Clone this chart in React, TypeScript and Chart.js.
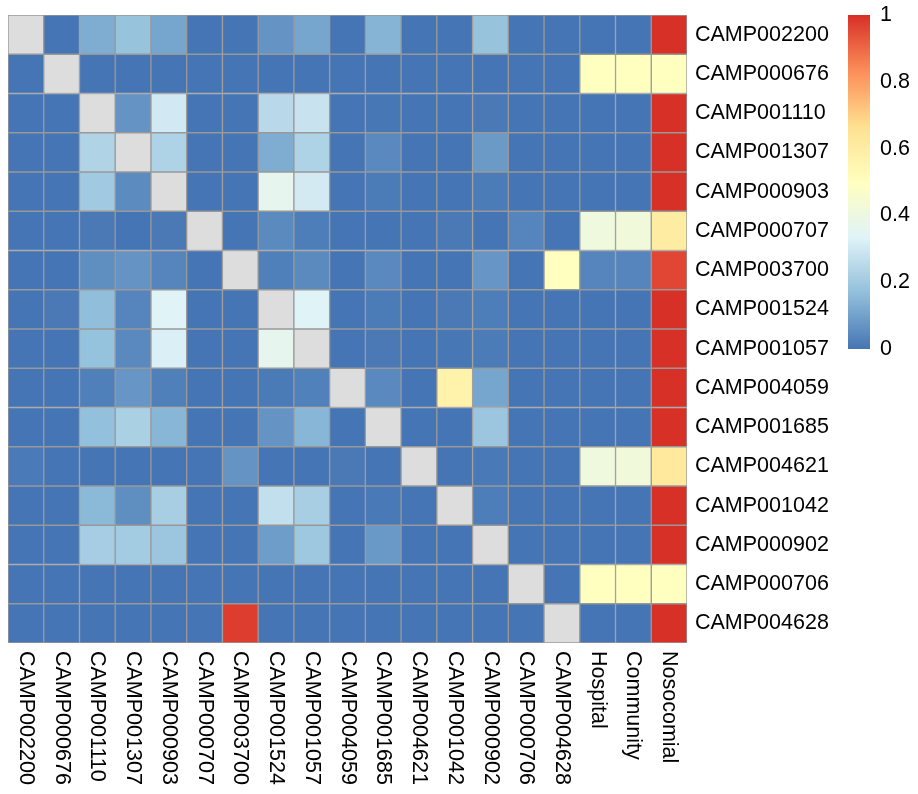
import React, { useEffect, useRef } from "react";
import { Chart, registerables } from "chart.js";

Chart.register(...registerables);

const rowLabels = [
  "CAMP002200", "CAMP000676", "CAMP001110", "CAMP001307", "CAMP000903", "CAMP000707",
  "CAMP003700", "CAMP001524", "CAMP001057", "CAMP004059", "CAMP001685", "CAMP004621",
  "CAMP001042", "CAMP000902", "CAMP000706", "CAMP004628",
];

const colLabels = [
  "CAMP002200", "CAMP000676", "CAMP001110", "CAMP001307", "CAMP000903", "CAMP000707",
  "CAMP003700", "CAMP001524", "CAMP001057", "CAMP004059", "CAMP001685", "CAMP004621",
  "CAMP001042", "CAMP000902", "CAMP000706", "CAMP004628", "Hospital", "Community", "Nosocomial",
];

// null = NA (diagonal)
const r00 = [null, 0, 0.127, 0.18, 0.107, 0, 0, 0.068, 0.107, 0, 0.143, 0, 0, 0.18, 0, 0, 0, 0, 1];
const r01 = [0, null, 0, 0, 0, 0, 0, 0, 0, 0, 0, 0, 0, 0, 0, 0, 0.5, 0.5, 0.5];
const r02 = [0, 0, null, 0.068, 0.3, 0, 0, 0.25, 0.283, 0, 0.005, 0, 0, 0.01, 0, 0, 0, 0, 1];
const r03 = [0, 0, 0.232, null, 0.23, 0, 0, 0.125, 0.23, 0, 0.044, 0, 0, 0.083, 0, 0, 0, 0, 1];
const r04 = [0, 0, 0.2, 0.05, null, 0, 0, 0.365, 0.306, 0, 0.015, 0, 0, 0.015, 0, 0, 0, 0, 1];
const r05 = [0, 0, 0.01, 0, 0.01, null, 0, 0.048, 0.02, 0, 0, 0, 0.01, 0, 0.035, 0, 0.41, 0.42, 0.6];
const r06 = [0, 0, 0.057, 0.07, 0.037, 0, null, 0.024, 0.048, 0, 0.046, 0, 0, 0.075, 0, 0.5, 0.037, 0.035, 0.96];
const r07 = [0, 0.01, 0.167, 0.035, 0.335, 0, 0, null, 0.335, 0, 0.015, 0, 0.01, 0.02, 0, 0, 0, 0, 1];
const r08 = [0, 0, 0.175, 0.046, 0.32, 0, 0, 0.365, null, 0, 0.01, 0, 0.005, 0.015, 0, 0, 0, 0, 1];
const r09 = [0, 0, 0.024, 0.075, 0.024, 0, 0, 0.013, 0.026, null, 0.046, 0, 0.57, 0.107, 0, 0, 0, 0, 1];
const r10 = [0, 0, 0.17, 0.22, 0.147, 0, 0, 0.07, 0.147, 0, null, 0, 0, 0.19, 0, 0, 0, 0, 1];
const r11 = [0.012, 0, 0, 0, 0, 0, 0.068, 0, 0, 0.01, 0, null, 0, 0.008, 0, 0, 0.41, 0.42, 0.62];
const r12 = [0, 0, 0.154, 0.057, 0.215, 0, 0, 0.27, 0.216, 0, 0.008, 0, null, 0.02, 0, 0, 0, 0, 1];
const r13 = [0, 0, 0.21, 0.205, 0.19, 0, 0, 0.09, 0.195, 0, 0.08, 0, 0, null, 0, 0, 0, 0, 1];
const r14 = [0, 0, 0, 0, 0, 0, 0, 0, 0, 0, 0, 0, 0, 0, null, 0, 0.5, 0.5, 0.5];
const r15 = [0, 0, 0, 0, 0, 0, 0.977, 0, 0, 0, 0, 0, 0, 0, 0, null, 0, 0, 1];

const matrix = [r00, r01, r02, r03, r04, r05, r06, r07, r08, r09, r10, r11, r12, r13, r14, r15];

const colorbarTicks = [0, 0.2, 0.4, 0.6, 0.8, 1];

// reversed RdYlBu (7 classes)
const paletteStops = ["#4575B4", "#91BFDB", "#E0F3F8", "#FFFFBF", "#FEE090", "#FC8D59", "#D73027"];
const naColor = "#DDDDDD";

function hexToRgb(h: string) {
  return [parseInt(h.slice(1, 3), 16), parseInt(h.slice(3, 5), 16), parseInt(h.slice(5, 7), 16)];
}

function colorFor(v: number | null) {
  if (v === null || v === undefined) return naColor;
  const t = Math.max(0, Math.min(1, v)) * (paletteStops.length - 1);
  const i = Math.min(Math.floor(t), paletteStops.length - 2);
  const f = t - i;
  const a = hexToRgb(paletteStops[i]);
  const b = hexToRgb(paletteStops[i + 1]);
  const c = a.map((x, k) => Math.round(x + (b[k] - x) * f));
  return `rgb(${c[0]},${c[1]},${c[2]})`;
}

const W = 918;
const H = 794;
const FONT = "'Liberation Sans', Arial, sans-serif";
const FS = 21.5;

export default function App() {
  const ref = useRef<HTMLCanvasElement | null>(null);

  useEffect(() => {
    if (!ref.current) return;

    const extras = {
      id: "extras",
      afterDraw(chart: any) {
        const ctx = chart.ctx;
        const xs = chart.scales.x;
        const area = chart.chartArea;
        ctx.save();
        ctx.fillStyle = "#000";
        ctx.font = `${FS}px ${FONT}`;
        // rotated column labels (clockwise)
        colLabels.forEach((lab, i) => {
          const x = xs.getPixelForValue(i);
          ctx.save();
          ctx.translate(x, area.bottom + 8);
          ctx.rotate(Math.PI / 2);
          ctx.textAlign = "left";
          ctx.textBaseline = "middle";
          ctx.fillText(lab, 0, 0);
          ctx.restore();
        });
        // colour bar
        const bx = 848, bw = 22, top = 15, bottom = 349;
        const g = ctx.createLinearGradient(0, bottom, 0, top);
        paletteStops.forEach((c, i) => g.addColorStop(i / (paletteStops.length - 1), c));
        ctx.fillStyle = g;
        ctx.fillRect(bx, top, bw, bottom - top);
        ctx.fillStyle = "#000";
        ctx.textAlign = "left";
        ctx.textBaseline = "middle";
        colorbarTicks.forEach((v) => {
          const y = bottom - v * (bottom - top);
          ctx.fillText(String(v), 880, y);
        });
        ctx.restore();
      },
    };

    const datasets = matrix.map((row, r) => ({
      label: rowLabels[r],
      data: colLabels.map(() => [r, r + 1]),
      backgroundColor: row.map((v) => colorFor(v)),
      borderColor: "#999999",
      borderWidth: 1,
      borderSkipped: false,
      barPercentage: 1,
      categoryPercentage: 1,
      grouped: false,
    }));

    const chart = new Chart(ref.current, {
      type: "bar",
      data: { labels: colLabels, datasets: datasets as any },
      options: {
        animation: false,
        responsive: false,
        maintainAspectRatio: false,
        layout: { padding: { left: 8, top: 15, right: 0, bottom: 0 } },
        plugins: { legend: { display: false }, tooltip: { enabled: false } },
        scales: {
          x: {
            type: "category",
            grid: { display: false },
            border: { display: false },
            ticks: { display: false },
            afterFit: (s: any) => { s.height = H - 643; s.paddingLeft = 0; s.paddingRight = 0; },
          },
          y: {
            type: "linear",
            position: "right",
            reverse: true,
            min: 0,
            max: 16,
            grid: { display: false, drawTicks: false },
            border: { display: false },
            afterBuildTicks: (s: any) => {
              s.ticks = rowLabels.map((_, i) => ({ value: i + 0.5 }));
            },
            ticks: {
              autoSkip: false,
              padding: 8,
              color: "#000",
              font: { family: FONT, size: FS },
              callback: (_v: any, i: number) => rowLabels[i],
            },
            afterFit: (s: any) => { s.width = W - 687; s.paddingTop = 0; s.paddingBottom = 0; },
          },
        },
      },
      plugins: [extras],
    });

    return () => chart.destroy();
  }, []);

  return (
    <div style={{ position: "absolute", left: 0, top: 0, width: W, height: H, background: "#fff" }}>
      <canvas ref={ref} width={W} height={H} style={{ width: W, height: H, display: "block" }} />
    </div>
  );
}
